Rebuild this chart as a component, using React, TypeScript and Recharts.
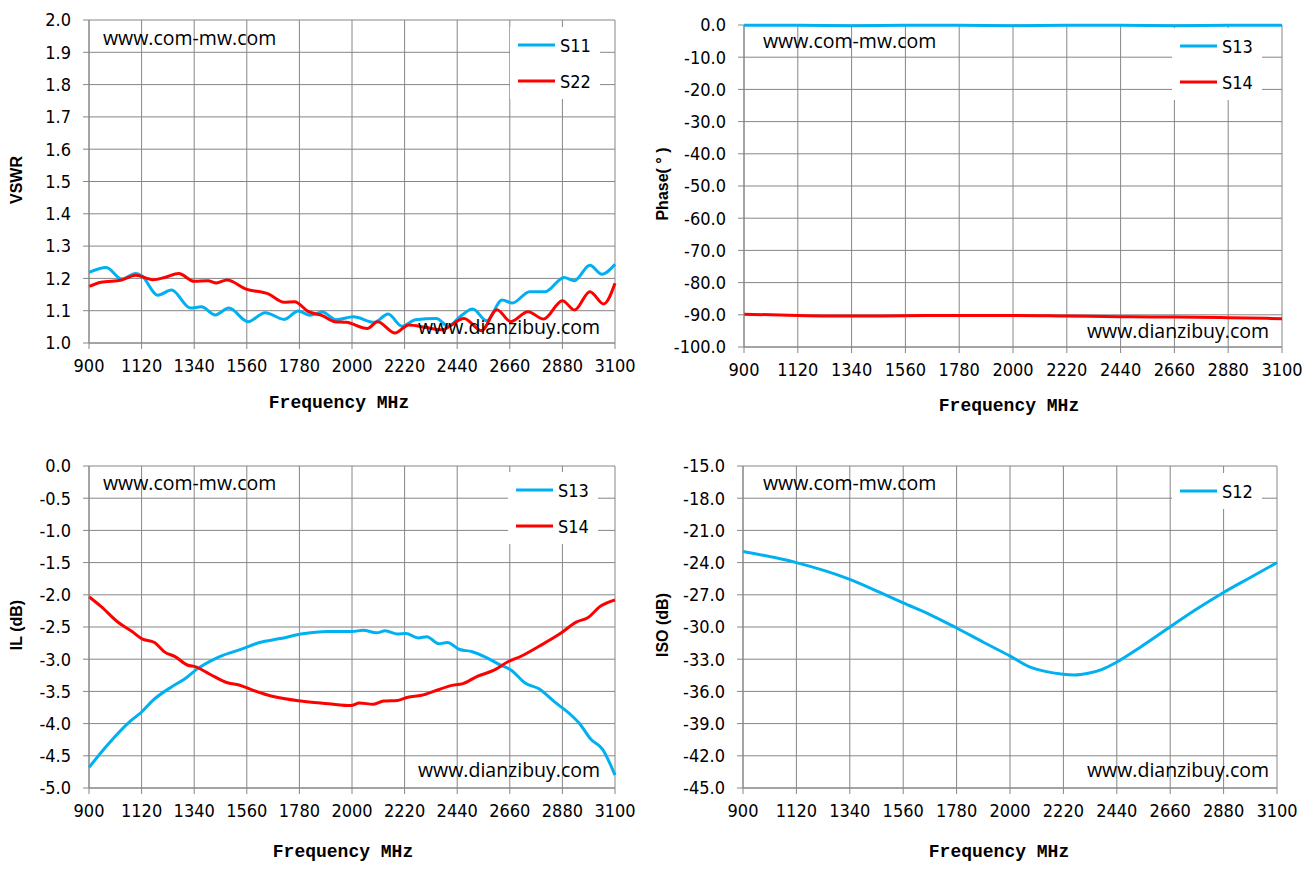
import { LineChart, Line, XAxis, YAxis, CartesianGrid, Legend } from "recharts";

const FREQ_TICKS = [900, 1120, 1340, 1560, 1780, 2000, 2220, 2440, 2660, 2880, 3100];

// VSWR panel
const VSWR_TICKS = [1.0, 1.1, 1.2, 1.3, 1.4, 1.5, 1.6, 1.7, 1.8, 1.9, 2.0];
const S11_FREQ = [900, 972, 1037, 1095, 1120, 1188, 1245, 1325, 1370, 1428, 1485, 1565, 1637, 1717, 1775, 1825, 1876, 1934, 2006, 2093, 2151, 2209, 2266, 2353, 2403, 2454, 2505, 2563, 2628, 2671, 2743, 2808, 2887, 2930, 2995, 3045, 3100];
const S11_VSWR = [1.219, 1.234, 1.198, 1.215, 1.208, 1.148, 1.164, 1.108, 1.112, 1.087, 1.108, 1.066, 1.094, 1.073, 1.099, 1.086, 1.096, 1.072, 1.081, 1.064, 1.09, 1.052, 1.072, 1.076, 1.052, 1.083, 1.105, 1.069, 1.133, 1.124, 1.159, 1.159, 1.203, 1.193, 1.241, 1.213, 1.244];
const S22_FREQ = [900, 950, 1037, 1095, 1167, 1217, 1275, 1340, 1397, 1433, 1477, 1557, 1650, 1716, 1760, 1818, 1876, 1927, 1977, 2064, 2107, 2180, 2238, 2310, 2375, 2469, 2541, 2606, 2664, 2736, 2801, 2880, 2931, 2995, 3053, 3100];
const S22_VSWR = [1.175, 1.188, 1.195, 1.21, 1.196, 1.203, 1.215, 1.191, 1.193, 1.186, 1.195, 1.167, 1.152, 1.126, 1.128, 1.097, 1.085, 1.066, 1.064, 1.045, 1.066, 1.031, 1.056, 1.048, 1.041, 1.076, 1.038, 1.103, 1.066, 1.097, 1.074, 1.131, 1.102, 1.159, 1.121, 1.185];

// Phase panel
const PHASE_TICKS = [-100, -90, -80, -70, -60, -50, -40, -30, -20, -10, 0];
const S13_PHASE = [-0.1, -0.1, -0.2, -0.1, -0.1, -0.2, -0.1, -0.1, -0.2, -0.1, -0.1];
const S14_PHASE = [-89.8, -90.2, -90.4, -90.3, -90.2, -90.2, -90.4, -90.6, -90.7, -90.9, -91.2];

// Insertion loss panel
const IL_TICKS = [-5.0, -4.5, -4.0, -3.5, -3.0, -2.5, -2.0, -1.5, -1.0, -0.5, 0.0];
const S13_IL_FREQ = [900, 980, 1067, 1120, 1167, 1245, 1303, 1353, 1440, 1541, 1613, 1700, 1786, 1901, 2002, 2046, 2103, 2139, 2190, 2226, 2277, 2313, 2363, 2399, 2450, 2500, 2565, 2615, 2666, 2724, 2782, 2846, 2911, 2954, 2998, 3048, 3100];
const S13_IL = [-4.68, -4.32, -3.98, -3.82, -3.64, -3.43, -3.3, -3.15, -2.97, -2.84, -2.74, -2.68, -2.61, -2.57, -2.57, -2.55, -2.59, -2.56, -2.61, -2.6, -2.67, -2.65, -2.76, -2.74, -2.85, -2.88, -2.98, -3.08, -3.17, -3.37, -3.46, -3.66, -3.85, -4.01, -4.24, -4.4, -4.8];
const S14_IL_FREQ = [900, 950, 1023, 1080, 1120, 1174, 1217, 1260, 1311, 1347, 1404, 1483, 1527, 1584, 1671, 1786, 1901, 1995, 2031, 2089, 2132, 2190, 2234, 2291, 2349, 2414, 2464, 2522, 2594, 2652, 2709, 2782, 2868, 2940, 2984, 3042, 3100];
const S14_IL = [-2.03, -2.18, -2.43, -2.57, -2.68, -2.74, -2.89, -2.96, -3.09, -3.12, -3.23, -3.37, -3.4, -3.48, -3.58, -3.65, -3.69, -3.72, -3.68, -3.7, -3.65, -3.64, -3.59, -3.56, -3.49, -3.41, -3.38, -3.27, -3.17, -3.04, -2.95, -2.8, -2.61, -2.42, -2.36, -2.17, -2.08];

// Isolation panel
const ISO_TICKS = [-45, -42, -39, -36, -33, -30, -27, -24, -21, -18, -15];
const S12_FREQ = [900, 1120, 1340, 1462, 1560, 1670, 1780, 1892, 1999, 2078, 2150, 2219, 2265, 2322, 2380, 2437, 2537, 2659, 2766, 2878, 2981, 3100];
const S12_ISO = [-22.97, -24.0, -25.56, -26.75, -27.75, -28.84, -30.09, -31.44, -32.69, -33.69, -34.16, -34.41, -34.47, -34.31, -33.94, -33.31, -31.88, -30.0, -28.38, -26.81, -25.5, -24.0];

const BLUE = "#00b0f0";
const RED = "#ff0000";
const GRID = "#868686";
const TICK_FONT = '"Liberation Sans Narrow", "DejaVu Sans Condensed", "Liberation Sans", sans-serif';
const SITE_FONT = '"Open Sans", "Noto Sans", sans-serif';

const zip = (f: number[], v: number[]) => f.map((x, i) => ({ freq: x, value: v[i] }));

type Series = { name: string; color: string; data: { freq: number; value: number }[] };

type PanelProps = {
  plot: { x: number; y: number; w: number; h: number };
  series: Series[];
  yTicks: number[];
  yTitle: string;
  yTitleX: number;
  xTitleX: number;
  xTitleY: number;
  legend: { x: number; y: number };
  siteA: { x: number; y: number };
  siteB: { x: number; y: number };
};

const ML = 100;
const MT = 10;

function Panel({ plot, series, yTicks, yTitle, yTitleX, xTitleX, xTitleY, legend, siteA, siteB }: PanelProps) {
  const left = plot.x - ML;
  const top = plot.y - MT;

  const renderLegend = (props: any) => (
    <div style={{ background: "#fff", width: 90 }}>
      {(props.payload || []).map((p: any) => (
        <div key={p.value} style={{ display: "flex", alignItems: "center", height: 36 }}>
          <svg width={46} height={6}>
            <line x1={8} y1={3} x2={45} y2={3} stroke={p.color} strokeWidth={3} />
          </svg>
          <span style={{ fontFamily: TICK_FONT, fontSize: 18, color: "#000", marginLeft: 4 }}>{p.value}</span>
        </div>
      ))}
    </div>
  );

  const siteStyle = { position: "absolute" as const, fontFamily: SITE_FONT, fontSize: 19.5, color: "#000", whiteSpace: "nowrap" as const };

  return (
    <>
      <div style={{ position: "absolute", left, top }}>
        <LineChart
          width={plot.w + ML + 20}
          height={plot.h + MT + 80}
          margin={{ top: MT, right: 20, bottom: 0, left: 0 }}
        >
          <CartesianGrid stroke={GRID} strokeWidth={1} />
          <XAxis
            type="number"
            dataKey="freq"
            domain={[900, 3100]}
            ticks={FREQ_TICKS}
            interval={0}
            height={80}
            stroke={GRID}
            tickSize={6}
            tickMargin={10}
            tick={{ fill: "#000", fontFamily: TICK_FONT, fontSize: 18 }}
          />
          <YAxis
            type="number"
            domain={[yTicks[0], yTicks[yTicks.length - 1]]}
            ticks={yTicks}
            interval={0}
            width={ML}
            stroke={GRID}
            tickSize={6}
            tickMargin={12}
            tickFormatter={(v: number) => v.toFixed(1)}
            tick={{ fill: "#000", fontFamily: TICK_FONT, fontSize: 18 }}
          />
          {series.map((s) => (
            <Line
              key={s.name}
              data={s.data}
              dataKey="value"
              name={s.name}
              type="monotone"
              stroke={s.color}
              strokeWidth={3}
              dot={false}
              isAnimationActive={false}
            />
          ))}
          <Legend
            layout="horizontal"
            verticalAlign="middle"
            align="center"
            wrapperStyle={{ left: legend.x - left, top: legend.y - top, width: 90 }}
            content={renderLegend}
          />
        </LineChart>
      </div>
      <div style={{ ...siteStyle, left: siteA.x, top: siteA.y }}>www.com-mw.com</div>
      <div style={{ ...siteStyle, left: siteB.x, top: siteB.y }}>www.dianzibuy.com</div>
      <div
        style={{
          position: "absolute",
          left: xTitleX - 100,
          width: 200,
          top: xTitleY - 11,
          textAlign: "center",
          fontFamily: '"Liberation Mono", "DejaVu Sans Mono", monospace',
          fontWeight: "bold",
          fontSize: 18,
          color: "#000",
        }}
      >
        Frequency MHz
      </div>
      <div
        style={{
          position: "absolute",
          left: yTitleX - 100,
          width: 200,
          top: plot.y + plot.h / 2 - 11,
          textAlign: "center",
          transform: "rotate(-90deg)",
          fontFamily: '"Liberation Sans", Arial, sans-serif',
          fontWeight: "bold",
          fontSize: 16,
          color: "#000",
          whiteSpace: "pre",
        }}
      >
        {yTitle}
      </div>
    </>
  );
}

export default function App() {
  return (
    <div style={{ position: "absolute", left: 0, top: 0, width: 1307, height: 869, background: "#fff", overflow: "hidden" }}>
      <Panel
        plot={{ x: 89, y: 20, w: 526, h: 323 }}
        series={[
          { name: "S11", color: BLUE, data: zip(S11_FREQ, S11_VSWR) },
          { name: "S22", color: RED, data: zip(S22_FREQ, S22_VSWR) },
        ]}
        yTicks={VSWR_TICKS}
        yTitle="VSWR"
        yTitleX={17}
        xTitleX={339}
        xTitleY={404}
        legend={{ x: 510, y: 27 }}
        siteA={{ x: 103, y: 24 }}
        siteB={{ x: 418, y: 313 }}
      />
      <Panel
        plot={{ x: 744, y: 25, w: 538, h: 322 }}
        series={[
          { name: "S13", color: BLUE, data: zip(FREQ_TICKS, S13_PHASE) },
          { name: "S14", color: RED, data: zip(FREQ_TICKS, S14_PHASE) },
        ]}
        yTicks={PHASE_TICKS}
        yTitle="Phase( ° )"
        yTitleX={663}
        xTitleX={1009}
        xTitleY={407}
        legend={{ x: 1172, y: 28 }}
        siteA={{ x: 763, y: 27 }}
        siteB={{ x: 1087, y: 317 }}
      />
      <Panel
        plot={{ x: 89, y: 466, w: 526, h: 322 }}
        series={[
          { name: "S13", color: BLUE, data: zip(S13_IL_FREQ, S13_IL) },
          { name: "S14", color: RED, data: zip(S14_IL_FREQ, S14_IL) },
        ]}
        yTicks={IL_TICKS}
        yTitle="IL (dB)"
        yTitleX={17}
        xTitleX={343}
        xTitleY={853}
        legend={{ x: 508, y: 472 }}
        siteA={{ x: 103, y: 469 }}
        siteB={{ x: 418, y: 756 }}
      />
      <Panel
        plot={{ x: 743, y: 466, w: 534, h: 322 }}
        series={[{ name: "S12", color: BLUE, data: zip(S12_FREQ, S12_ISO) }]}
        yTicks={ISO_TICKS}
        yTitle="ISO (dB)"
        yTitleX={663}
        xTitleX={999}
        xTitleY={853}
        legend={{ x: 1172, y: 473 }}
        siteA={{ x: 763, y: 469 }}
        siteB={{ x: 1087, y: 756 }}
      />
    </div>
  );
}
